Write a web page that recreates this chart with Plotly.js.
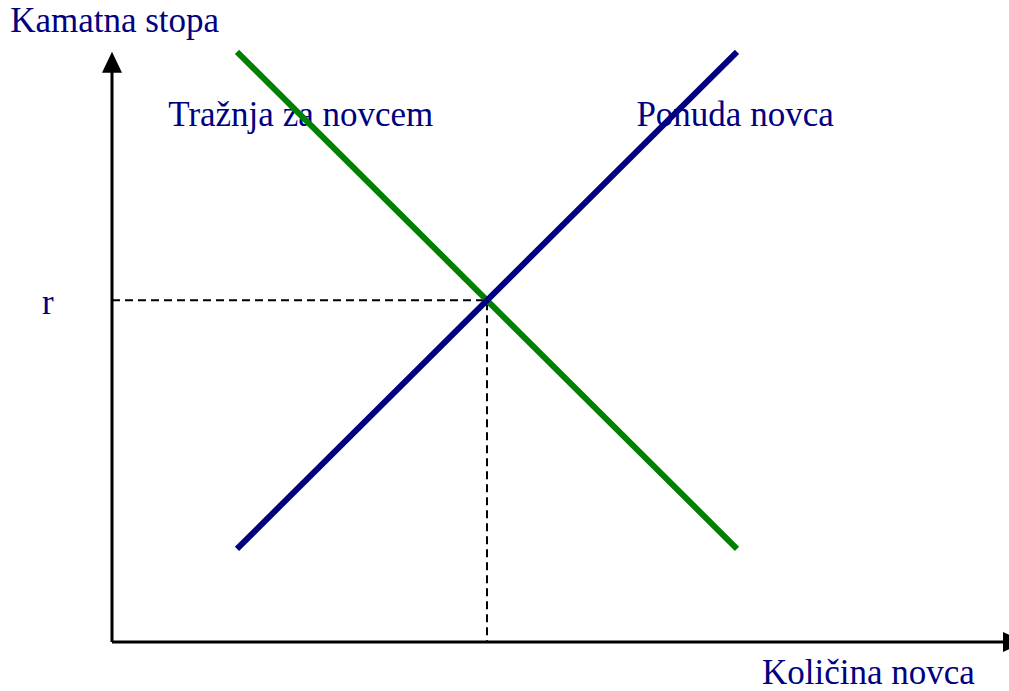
<!DOCTYPE html>
<html>
<head>
<meta charset="utf-8">
<script src="https://cdn.plot.ly/plotly-3.0.1.min.js"></script>
<style>html,body{margin:0;padding:0;background:#fff;}#chart{width:1009px;height:691px;}</style>
</head>
<body>
<div id="chart"></div>
<script>
// Data (quantity of money on x, interest rate on y; arbitrary units)
const quantity = [1, 5];
const demandRate = [4.75, 0.75];   // Tražnja za novcem
const supplyRate = [0.75, 4.75];   // Ponuda novca
const eqQuantity = 3;
const eqRate = 2.75;

const labelTexts = ['Kamatna stopa', 'Tražnja za novcem', 'Ponuda novca', 'r', 'Količina novca'];
const labelX = [-0.815, 0.45, 4.195, -0.56, 5.2];
const labelY = [4.978, 4.226, 4.226, 2.71, -0.266];

const xRange = [-0.896, 7.176];
const yRange = [-0.3944, 5.167];
const xAxisEnd = 7.144;
const yAxisEnd = 4.75;

const navy = '#000080';
const green = '#008000';

const traces = [
  {
    x: labelX, y: labelY, text: labelTexts, mode: 'text',
    textposition: 'middle right',
    textfont: {family: '"Liberation Serif", "Times New Roman", serif', size: 35, color: navy},
    cliponaxis: false, hoverinfo: 'skip', showlegend: false
  },
  {
    x: [0, eqQuantity, eqQuantity], y: [eqRate, eqRate, 0], mode: 'lines',
    line: {color: '#000', width: 2, dash: '8px,5px'}, hoverinfo: 'skip', showlegend: false
  },
  {
    x: quantity, y: demandRate, mode: 'lines', name: 'Tražnja za novcem',
    line: {color: green, width: 6}, showlegend: false
  },
  {
    x: quantity, y: supplyRate, mode: 'lines', name: 'Ponuda novca',
    line: {color: navy, width: 6}, showlegend: false
  }
];

// arrow head sizes in data units
const ux = 1/125, uy = 1/124.25;
const shapes = [
  {type: 'line', xref: 'x', yref: 'y', x0: 0, y0: 0, x1: 0, y1: yAxisEnd - 20*uy, line: {color: '#000', width: 3}},
  {type: 'line', xref: 'x', yref: 'y', x0: 0, y0: 0, x1: xAxisEnd, y1: 0, line: {color: '#000', width: 3}},
  {type: 'path', xref: 'x', yref: 'y', fillcolor: '#000', line: {width: 0},
   path: `M ${-10*ux} ${yAxisEnd - 21*uy} L ${10*ux} ${yAxisEnd - 21*uy} L 0 ${yAxisEnd} Z`},
  {type: 'path', xref: 'x', yref: 'y', fillcolor: '#000', line: {width: 0},
   path: `M ${xAxisEnd - 2*ux} ${10*uy} L ${xAxisEnd - 2*ux} ${-10*uy} L ${xAxisEnd + 19*ux} 0 Z`}
];

const layout = {
  width: 1009, height: 691,
  margin: {l: 0, r: 0, t: 0, b: 0, pad: 0},
  paper_bgcolor: '#fff', plot_bgcolor: '#fff',
  xaxis: {range: xRange, visible: false, fixedrange: true},
  yaxis: {range: yRange, visible: false, fixedrange: true},
  shapes: shapes,
  showlegend: false,
  hovermode: false
};

Plotly.newPlot('chart', traces, layout, {staticPlot: true, displayModeBar: false});
</script>
</body>
</html>
